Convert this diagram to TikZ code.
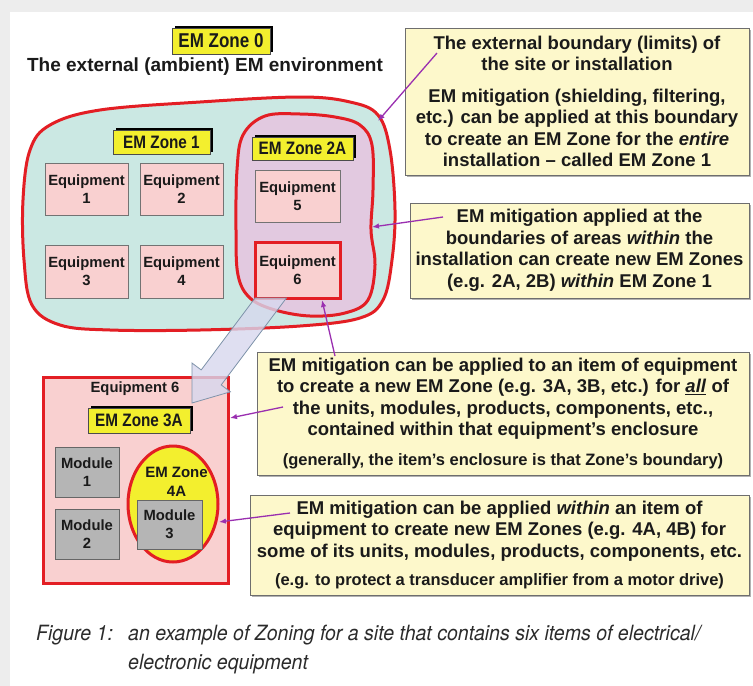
\documentclass[tikz,border=0pt]{standalone}
\usepackage{fontspec}
\setmainfont{Liberation Sans}
\newfontfamily\narrowfont[FakeStretch=0.85]{Liberation Sans}
\newfontfamily\capfont[FakeStretch=0.93]{TeX Gyre Heros}
\usetikzlibrary{arrows.meta,shadows,shapes.geometric}
\definecolor{pagegray}{HTML}{EDEDED}
\definecolor{zonecyan}{HTML}{CBE8E3}
\definecolor{zonelav}{HTML}{E2C9E0}
\definecolor{eqpink}{HTML}{F9D0D0}
\definecolor{zred}{HTML}{E31E24}
\definecolor{zyellow}{HTML}{F3EF2E}
\definecolor{callfill}{HTML}{FDF8CB}
\definecolor{callborder}{HTML}{6E6E6E}
\definecolor{purp}{HTML}{9A2FB0}
\definecolor{modgray}{HTML}{B5B5B5}
\definecolor{arrowlav}{HTML}{D7D8EE}
\definecolor{arrowedge}{HTML}{7F93AA}
\definecolor{txt}{HTML}{1A1A1A}
\definecolor{capgray}{HTML}{2B2B2B}
\begin{document}
\begin{tikzpicture}[x=1pt,y=-1pt,
  zonelabel/.style={fill=zyellow, draw=black!70, line width=0.6pt, inner sep=0pt, text=txt,
    font=\narrowfont\bfseries\fontsize{18}{20}\selectfont,
    drop shadow={shadow xshift=2.5pt,shadow yshift=2.5pt,fill=black,opacity=1}},
  eqbox/.style={draw=black!55, fill=eqpink, line width=0.8pt, inner sep=0pt, align=center,
    text=txt, font=\bfseries\fontsize{14.8}{18}\selectfont},
  modbox/.style={draw=black!60, fill=modgray, line width=0.8pt, inner sep=0pt, align=center,
    text=txt, font=\bfseries\fontsize{14.8}{18}\selectfont},
  callout/.style={fill=callfill, draw=callborder, line width=1pt, inner sep=0pt, align=center,
    text=txt, font=\bfseries\fontsize{18.5}{21.5}\selectfont,
    drop shadow={shadow xshift=2pt,shadow yshift=-2pt,fill=black!60,opacity=0.5}},
  pline/.style={draw=purp, line width=1.3pt, -{Latex[length=7pt,width=5.5pt]}},
  redline/.style={draw=zred, line width=3pt},
  captext/.style={anchor=base west, inner sep=0pt, text=capgray,
    font=\capfont\itshape\fontsize{21}{24}\selectfont}
]
\useasboundingbox (0,0) rectangle (753,686);
\fill[white] (0,0) rectangle (753,686);
\fill[pagegray] (0,0) rectangle (753,12);
\fill[pagegray] (0,0) rectangle (10,686);

% EM Zone 0
\node[zonelabel, minimum width=98pt, minimum height=26pt, font=\narrowfont\bfseries\fontsize{20}{22}\selectfont] (z0) at (221,41) {EM Zone 0};
\node[inner sep=0pt, text=txt, font=\bfseries\fontsize{19}{21}\selectfont] (ambient) at (205,67) {The external (ambient) EM environment};

% EM Zone 1 blob
\draw[redline, fill=zonecyan] plot[smooth cycle, tension=0.6] coordinates {
  (23,200) (30,150) (50,125) (100,110) (200,102) (300,97) (350,102) (378,115)
  (390,150) (395,210) (392,260) (383,300) (360,318) (300,326) (200,330) (110,330)
  (60,325) (32,305) (24,260)};
% EM Zone 2A blob
\draw[redline, fill=zonelav] plot[smooth cycle, tension=0.6] coordinates {
  (265,116) (300,114) (335,117) (360,125) (372,145) (373,190) (371,230) (375,265)
  (368,300) (345,313) (310,316) (275,310) (250,298) (238,275) (236,230) (237,170) (243,135)};

\node[zonelabel, minimum width=97pt, minimum height=24pt] (z1) at (161.5,142) {EM Zone 1};
\node[zonelabel, minimum width=101pt, minimum height=23pt] (z2a) at (302.5,148.5) {EM Zone 2A};

\node[eqbox, minimum width=83pt, minimum height=52pt] (eq1) at (86.5,189) {Equipment\\1};
\node[eqbox, minimum width=83pt, minimum height=52pt] (eq2) at (181.5,189) {Equipment\\2};
\node[eqbox, minimum width=83pt, minimum height=53pt] (eq3) at (86.5,271.5) {Equipment\\3};
\node[eqbox, minimum width=83pt, minimum height=53pt] (eq4) at (181.5,271.5) {Equipment\\4};
\node[eqbox, minimum width=85pt, minimum height=52pt] (eq5) at (297.5,196) {Equipment\\5};
\node[eqbox, draw=zred, line width=3pt, minimum width=85pt, minimum height=56pt] (eq6) at (297.5,270) {Equipment\\6};

% Equipment 6 enlarged
\node[draw=zred, line width=3pt, fill=eqpink, minimum width=185pt, minimum height=206pt, inner sep=0pt] (big6) at (135.5,480) {};
\node[inner sep=0pt, text=txt, font=\bfseries\fontsize{14.8}{18}\selectfont] (big6t) at (135,389) {Equipment 6};
\node[zonelabel, minimum width=102pt, minimum height=25pt] (z3a) at (139,420.5) {EM Zone 3A};
\node[modbox, minimum width=64pt, minimum height=50pt] (m1) at (87,472) {Module\\1};
\node[modbox, minimum width=64pt, minimum height=50pt] (m2) at (87,534) {Module\\2};
\node[ellipse, draw=zred, line width=3pt, fill=zyellow, minimum width=90pt, minimum height=116pt, inner sep=0pt] (z4a) at (173,504) {};
\node[inner sep=0pt, align=center, text=txt, font=\bfseries\fontsize{15}{19}\selectfont] (z4at) at (176.5,482) {EM Zone\\4A};
\node[modbox, minimum width=65pt, minimum height=49pt] (m3) at (169.5,524.5) {Module\\3};

% big arrow
\draw[fill=arrowlav, fill opacity=0.8, draw=arrowedge, line width=0.8pt]
  (255.1,298) -- (286.4,298) -- (221.2,384.9) -- (230.4,391.8) -- (192,403) -- (192,363) -- (201.2,369.9) -- cycle;

% callouts
\node[callout, minimum width=344pt, minimum height=147pt] (c1) at (577,101.5)
  {The external boundary (limits) of\\the site or installation\\[10pt]EM mitigation (shielding, filtering,\\etc.) can be applied at this boundary\\to create an EM Zone for the \textit{entire}\\installation – called EM Zone 1};
\node[callout, minimum width=339pt, minimum height=95pt] (c2) at (579.5,250.5)
  {EM mitigation applied at the\\boundaries of areas \textit{within} the\\installation can create new EM Zones\\(e.g. 2A, 2B) \textit{within} EM Zone 1};
\node[callout, minimum width=492pt, minimum height=123pt] (c3) at (503,413.5)
  {EM mitigation can be applied to an item of equipment\\to create a new EM Zone (e.g. 3A, 3B, etc.) for \underline{\textit{all}} of\\the units, modules, products, components, etc.,\\contained within that equipment's enclosure\\[8pt]{\fontsize{16.5}{19}\selectfont (generally, the item's enclosure is that Zone's boundary)}};
\node[callout, minimum width=499pt, minimum height=100pt] (c4) at (499.5,545)
  {EM mitigation can be applied \textit{within} an item of\\equipment to create new EM Zones (e.g. 4A, 4B) for\\some of its units, modules, products, components, etc.\\[7pt]{\fontsize{16.5}{19}\selectfont (e.g. to protect a transducer amplifier from a motor drive)}};

% purple connectors
\coordinate (p1a) at (437,53);
\coordinate (p1b) at (378,121);
\coordinate (p2a) at (443,217);
\coordinate (p2b) at (372,227);
\coordinate (p3a) at (335,356);
\coordinate (p3b) at (322,300);
\coordinate (p4a) at (283,407);
\coordinate (p4b) at (230,418);
\coordinate (p5a) at (290,513);
\coordinate (p5b) at (219,522);
\draw[pline] (p1a) -- (p1b);
\draw[pline] (p2a) -- (p2b);
\draw[pline] (p3a) -- (p3b);
\draw[pline] (p4a) -- (p4b);
\draw[pline] (p5a) -- (p5b);

% caption
\node[captext] (figlab) at (36,640) {Figure 1:};
\node[captext] (cap1) at (128,640) {an example of Zoning for a site that contains six items of electrical/};
\node[captext] (cap2) at (128,669) {electronic equipment};
\end{tikzpicture}
\end{document}
